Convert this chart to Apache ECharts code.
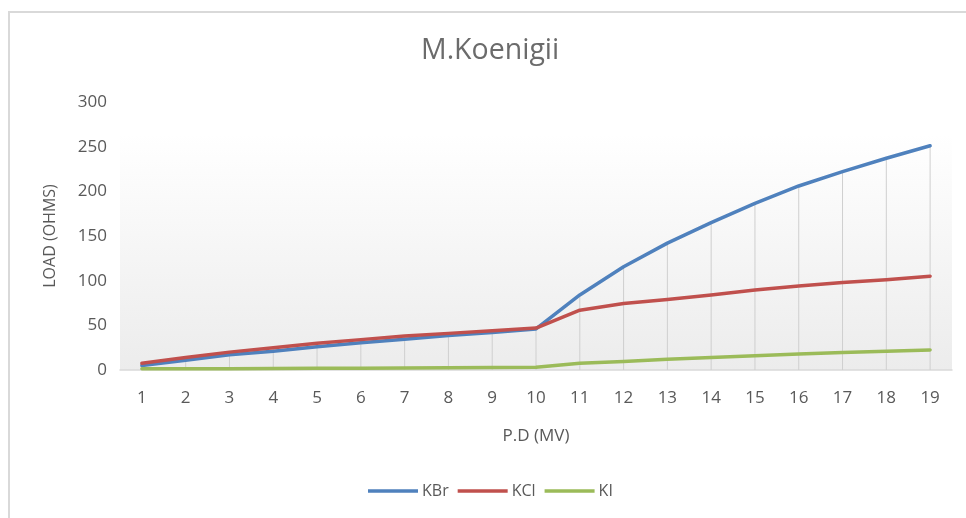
<!DOCTYPE html>
<html>
<head>
<meta charset="utf-8">
<script src="https://cdn.jsdelivr.net/npm/echarts@6/dist/echarts.min.js"></script>
<style>
  html, body { margin: 0; padding: 0; background: #ffffff; }
  #chart { width: 966px; height: 518px; }
</style>
</head>
<body>
<div id="chart"></div>
<script>
// Potential difference steps (MV)
const categories = ['1','2','3','4','5','6','7','8','9','10','11','12','13','14','15','16','17','18','19'];

// Load readings (ohms) for each salt
const kbr = [5, 11, 17, 21, 26, 30.5, 34.5, 38.5, 42, 46, 84, 115.5, 142, 165, 186.5, 206, 222, 237, 251];
const kcl = [7.5, 14, 20, 25, 30, 34, 38, 41, 44, 47, 67, 74.5, 79, 84, 89.5, 94, 98, 101, 105];
const ki  = [1.5, 1.5, 1.5, 1.8, 2, 2, 2.2, 2.5, 2.8, 3, 7.5, 9.5, 12, 14, 16, 18, 19.5, 21, 22.5];

const yTicks = { min: 0, max: 300, interval: 50 };

// Drop lines run from the highest reading of each step down to the axis
const dropTops = categories.map((_, i) => Math.max(kbr[i], kcl[i], ki[i]));

const FONT = 'Open Sans';
const TEXT = '#595959';

const chart = echarts.init(document.getElementById('chart'), null, { renderer: 'canvas' });

const lineSeries = (name, data, color) => ({
  name: name,
  type: 'line',
  data: data,
  symbol: 'none',
  smooth: false,
  z: 3,
  lineStyle: { color: color, width: 3.5, cap: 'round', join: 'round' },
  itemStyle: { color: color }
});

chart.setOption({
  backgroundColor: '#ffffff',
  animation: false,
  graphic: [{
    type: 'rect',
    shape: { x: 9, y: 12, width: 970, height: 520 },
    style: { fill: 'none', stroke: '#d9d9d9', lineWidth: 2 },
    silent: true,
    z: -10
  }],
  title: {
    text: 'M.Koenigii',
    left: 416,
    top: 31,
    textStyle: { fontFamily: FONT, fontSize: 28.5, fontWeight: 'normal', color: '#6b6b6b' }
  },
  legend: {
    data: ['KBr', 'KCl', 'KI'],
    bottom: 14,
    left: 363,
    icon: 'rect',
    itemWidth: 50,
    itemHeight: 3.5,
    itemGap: 9,
    textStyle: { fontFamily: FONT, fontSize: 16, color: TEXT, padding: [0, 0, 0, -1] }
  },
  grid: {
    left: 120,
    right: 14,
    top: 102,
    bottom: 148,
    show: true,
    borderWidth: 0,
    backgroundColor: new echarts.graphic.LinearGradient(0, 0, 0, 1, [
      { offset: 0, color: '#ffffff' },
      { offset: 0.12, color: '#ffffff' },
      { offset: 1, color: '#ececec' }
    ])
  },
  xAxis: {
    type: 'category',
    data: categories,
    boundaryGap: true,
    name: 'P.D (MV)',
    nameLocation: 'middle',
    nameGap: 58,
    nameTextStyle: { fontFamily: FONT, fontSize: 17, color: TEXT },
    axisLine: { show: true, lineStyle: { color: '#d9d9d9', width: 1.5 } },
    axisTick: { show: false },
    axisLabel: { fontFamily: FONT, fontSize: 17, color: TEXT, margin: 20 },
    splitLine: { show: false }
  },
  yAxis: {
    type: 'value',
    min: yTicks.min,
    max: yTicks.max,
    interval: yTicks.interval,
    name: 'LOAD (OHMS)',
    nameLocation: 'middle',
    nameGap: 62,
    nameTextStyle: { fontFamily: FONT, fontSize: 16, color: TEXT },
    axisLine: { show: false },
    axisTick: { show: false },
    axisLabel: { fontFamily: FONT, fontSize: 17, color: TEXT, margin: 13 },
    splitLine: { show: false }
  },
  series: [
    {
      name: 'drop',
      type: 'bar',
      data: dropTops,
      barWidth: 1,
      silent: true,
      z: 1,
      itemStyle: { color: '#cfcfcf' }
    },
    lineSeries('KBr', kbr, '#4F81BD'),
    lineSeries('KCl', kcl, '#C0504D'),
    lineSeries('KI', ki, '#9BBB59')
  ]
});
</script>
</body>
</html>
